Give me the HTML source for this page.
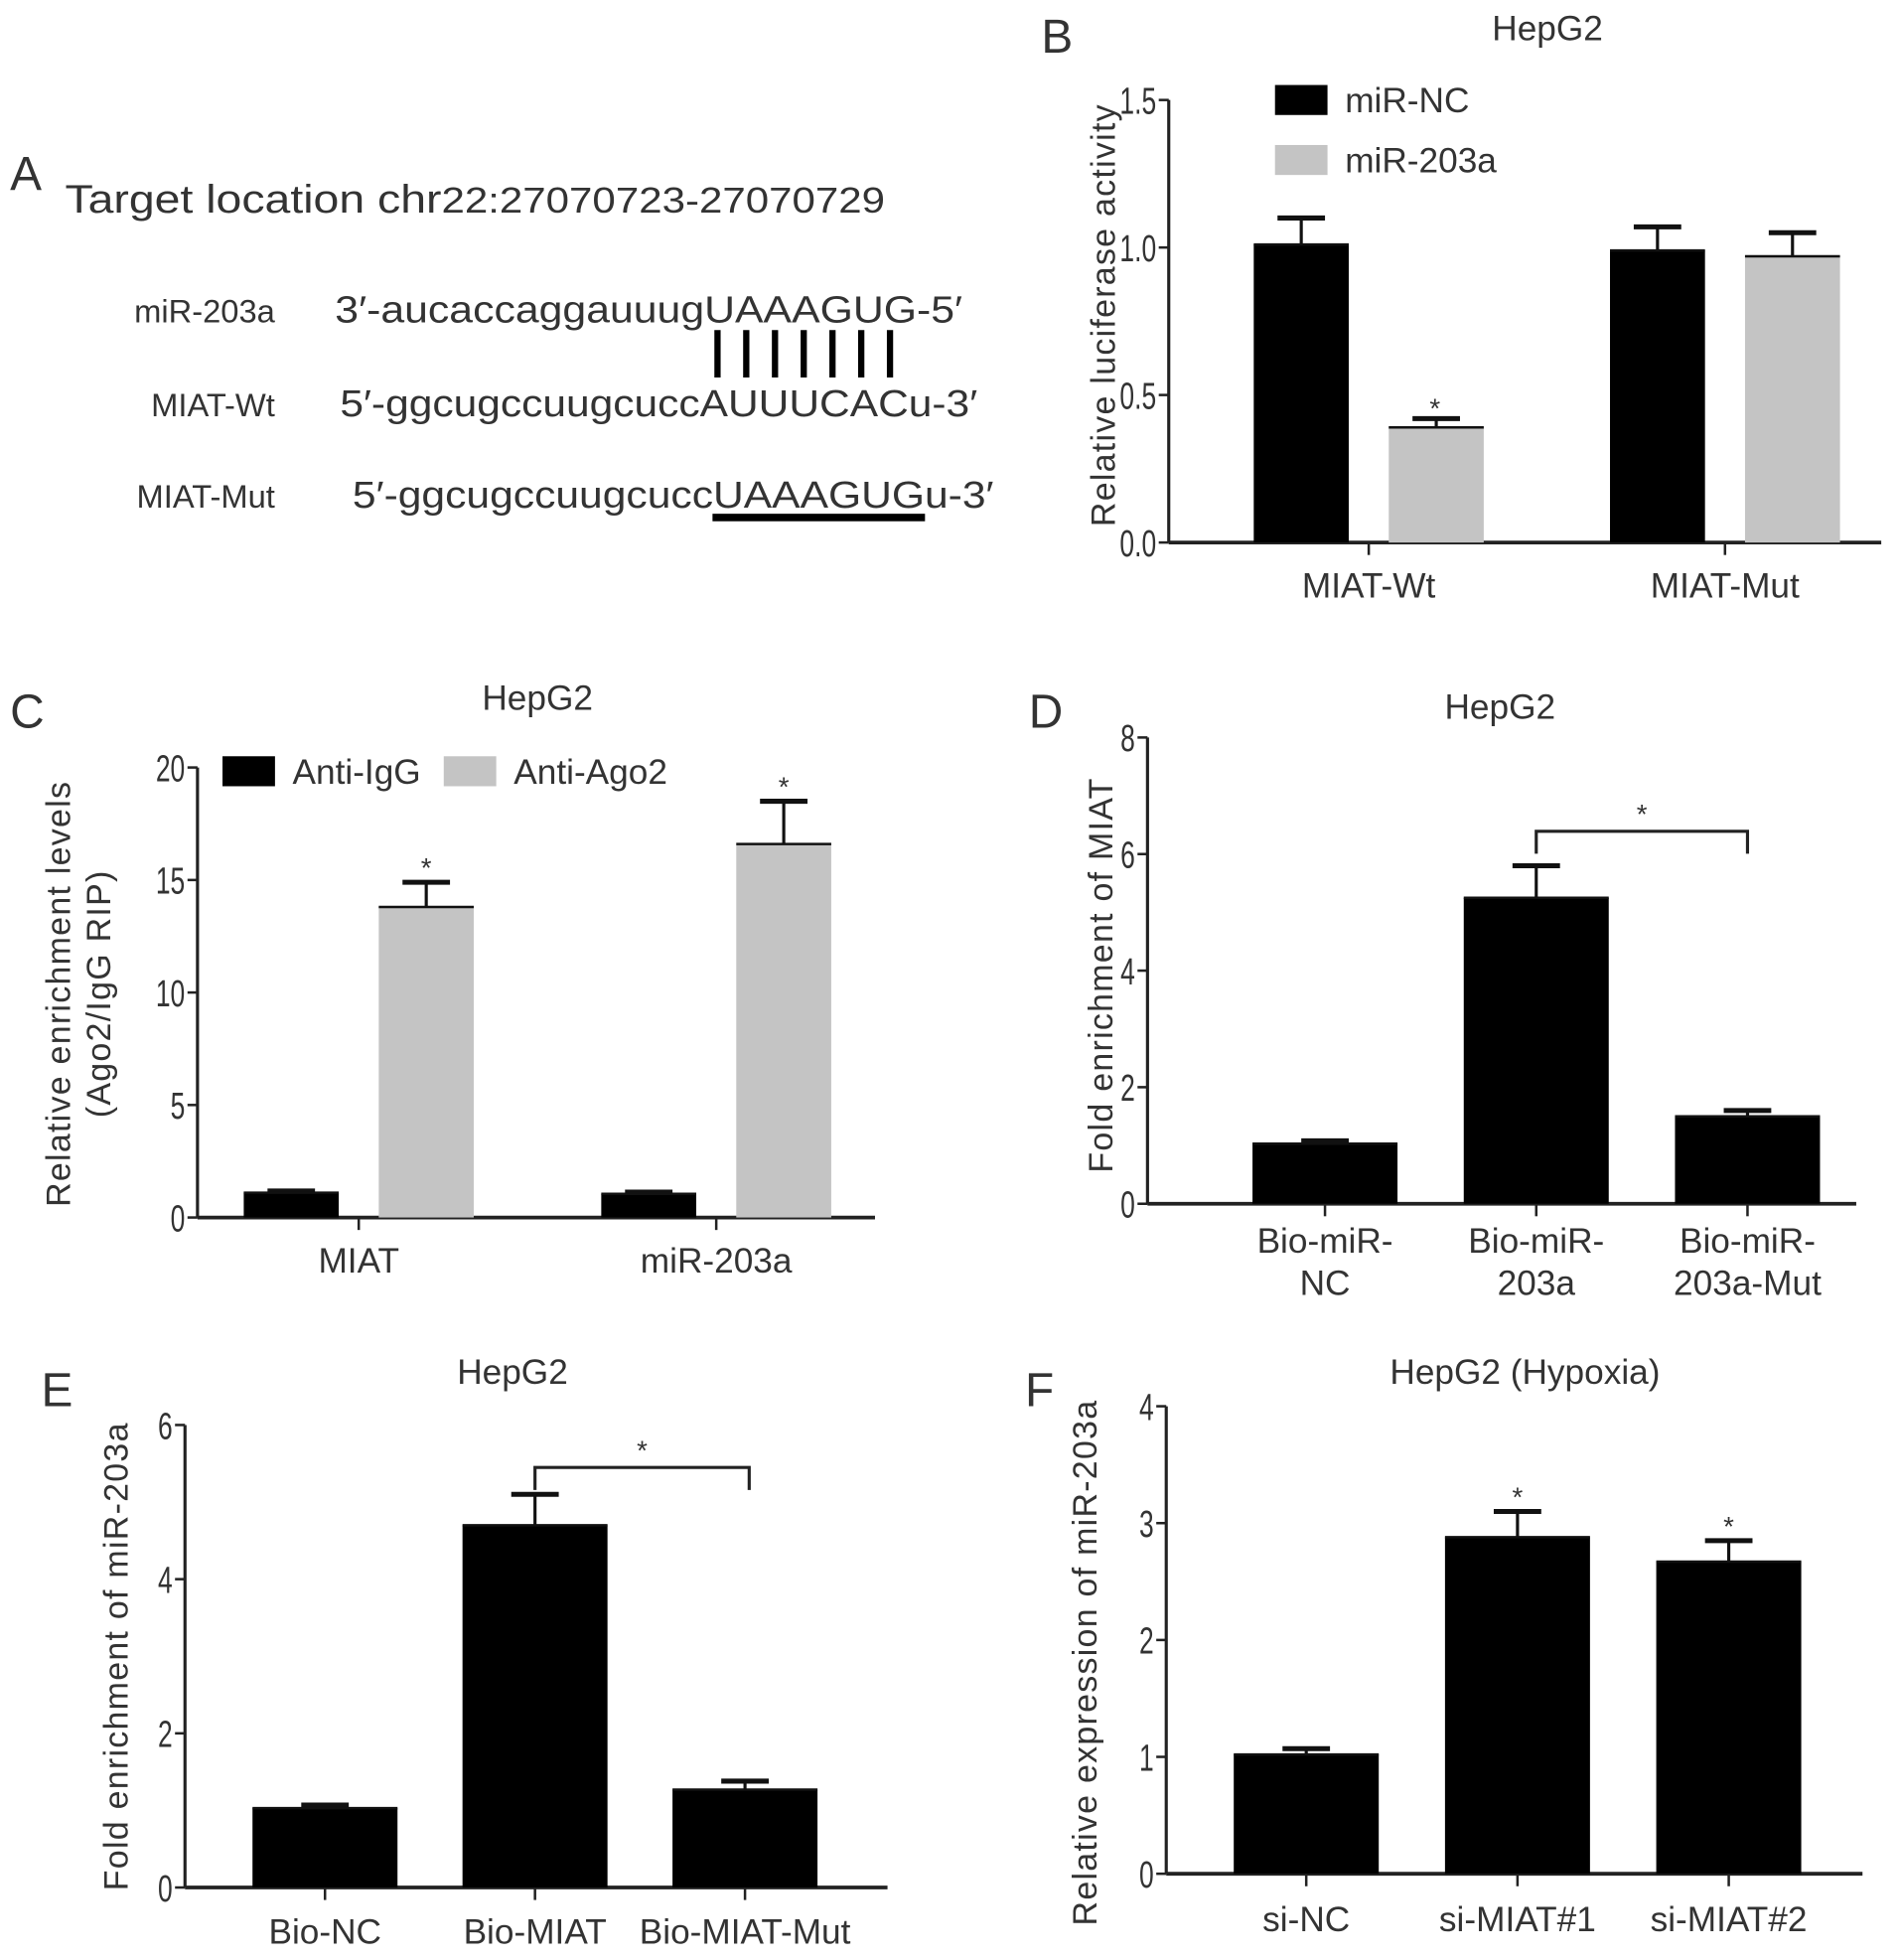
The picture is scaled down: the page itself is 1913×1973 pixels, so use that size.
<!DOCTYPE html>
<html><head><meta charset="utf-8"><style>
html,body{margin:0;padding:0;background:#fff}
svg{display:block}
text{font-family:"Liberation Sans","DejaVu Sans",sans-serif;fill:#333}
</style></head><body>
<svg id="fig" width="1913" height="1973" viewBox="0 0 1520 1568" preserveAspectRatio="none" xmlns="http://www.w3.org/2000/svg">
<g>
<text x="8" y="152" font-size="38">A</text>
<text x="52" y="170" font-size="32" textLength="656" lengthAdjust="spacingAndGlyphs">Target location chr<tspan font-size="29">22:27070723-27070729</tspan></text>
<text x="220" y="258" font-size="26" text-anchor="end">miR-203a</text>
<text x="268" y="258" font-size="30" textLength="502" lengthAdjust="spacingAndGlyphs">3′-aucaccaggauuugUAAAGUG-5′</text>
<g stroke="#000" stroke-width="5">
<line x1="574" y1="264" x2="574" y2="302"/><line x1="597" y1="264" x2="597" y2="302"/><line x1="620" y1="264" x2="620" y2="302"/><line x1="643" y1="264" x2="643" y2="302"/><line x1="666" y1="264" x2="666" y2="302"/><line x1="689" y1="264" x2="689" y2="302"/><line x1="712" y1="264" x2="712" y2="302"/>
</g>
<text x="220" y="333" font-size="26" text-anchor="end">MIAT-Wt</text>
<text x="272" y="333" font-size="30" textLength="510" lengthAdjust="spacingAndGlyphs">5′-ggcugccuugcuccAUUUCACu-3′</text>
<text x="220" y="406" font-size="26" text-anchor="end">MIAT-Mut</text>
<text x="282" y="406" font-size="30" textLength="513" lengthAdjust="spacingAndGlyphs">5′-ggcugccuugcuccUAAAGUGu-3′</text>
<rect x="570" y="411" width="170" height="6" fill="#000"/>
</g>
<text x="833" y="42" font-size="38">B</text>
<text x="8" y="582" font-size="38">C</text>
<text x="823" y="582" font-size="38">D</text>
<text x="33" y="1125" font-size="38">E</text>
<text x="820" y="1125" font-size="38">F</text>
<g id="charts"></g>
</svg>
<script>
// Panel B
const bCats = ["MIAT-Wt", "MIAT-Mut"];
const bSeries1 = [1.01, 0.99];
const bErr1 = [0.09, 0.08];
const bSeries2 = [0.39, 0.97];
const bErr2 = [0.03, 0.08];
const bTicks = ["0.0", "0.5", "1.0", "1.5"];
// Panel C
const cCats = ["MIAT", "miR-203a"];
const cSeries1 = [1.1, 1.05];
const cErr1 = [0.08, 0.08];
const cSeries2 = [13.8, 16.6];
const cErr2 = [1.1, 1.9];
const cTicks = ["0", "5", "10", "15", "20"];
// Panel D
const dCats = [["Bio-miR-", "NC"], ["Bio-miR-", "203a"], ["Bio-miR-", "203a-Mut"]];
const dValues = [1.03, 5.25, 1.5];
const dErr = [0.05, 0.55, 0.1];
const dTicks = ["0", "2", "4", "6", "8"];
// Panel E
const eCats = ["Bio-NC", "Bio-MIAT", "Bio-MIAT-Mut"];
const eValues = [1.03, 4.7, 1.27];
const eErr = [0.04, 0.4, 0.11];
const eTicks = ["0", "2", "4", "6"];
// Panel F
const fCats = ["si-NC", "si-MIAT#1", "si-MIAT#2"];
const fValues = [1.02, 2.88, 2.67];
const fErr = [0.05, 0.22, 0.18];
const fTicks = ["0", "1", "2", "3", "4"];

const NS = "http://www.w3.org/2000/svg";
const root = document.getElementById("charts");
function mk(tag, attrs, parent, txt) {
  const e = document.createElementNS(NS, tag);
  for (const k in attrs) e.setAttribute(k, attrs[k]);
  if (txt !== undefined) e.textContent = txt;
  (parent || root).appendChild(e);
  return e;
}
function axes(g, cfg) {
  const yScale = v => cfg.y0 - (v / cfg.max) * (cfg.y0 - cfg.y1);
  const yAxis = mk("line", {x1: cfg.ax, y1: cfg.y1, x2: cfg.ax, y2: cfg.y0, stroke: "#222", "stroke-width": 2.5}, g);
  
  
  const xAxis = mk("line", {x1: cfg.ax, y1: cfg.y0, x2: cfg.xEnd, y2: cfg.y0, stroke: "#222", "stroke-width": 3}, g);
  
  
  cfg.ticks.forEach(t => {
    const y = yScale(parseFloat(t));
    mk("line", {x1: cfg.ax - 8, y1: y, x2: cfg.ax, y2: y, stroke: "#222", "stroke-width": 2}, g);
    const tl = mk("text", {x: 0, y: 0, "font-size": 30, "text-anchor": "end", transform: `translate(${cfg.ax - 10},${y + 11}) scale(0.7,1)`}, g, t);
    
    
  });
  const yl = mk("text", {x: 0, y: 0, "font-size": 27, "text-anchor": "middle", "letter-spacing": "1", transform: `translate(${cfg.ylx},${cfg.yly}) rotate(-90)`}, g, cfg.ylabel);
  
  
  if (cfg.ylabel2) {
    const yl2 = mk("text", {x: 0, y: 0, "font-size": 27, "text-anchor": "middle", "letter-spacing": "1", transform: `translate(${cfg.ylx + 32},${cfg.yly}) rotate(-90)`}, g, cfg.ylabel2);
    
    
  }
  const tt = mk("text", {x: cfg.tx, y: cfg.ty, "font-size": 28, "text-anchor": "middle"}, g, cfg.title);
  
  
  return yScale;
}
function bar(g, x, w, v, err, ys, fill, name, star) {
  const y = ys(v);
  const r = mk("rect", {x: x, y: y, width: w, height: ys(0) - y, fill: fill}, g);
  
  
  const ye = ys(v + err), cx = x + w / 2;
  const e1 = mk("line", {x1: cx, y1: y, x2: cx, y2: ye, stroke: "#111", "stroke-width": 2.5}, g);
  
  
  mk("line", {x1: cx - 19, y1: ye, x2: cx + 19, y2: ye, stroke: "#111", "stroke-width": 4}, g);
  mk("line", {x1: x, y1: y, x2: x + w, y2: y, stroke: "#111", "stroke-width": 2}, g);
  if (star) {
    const s = mk("text", {x: cx, y: ye - 4, "font-size": 22, "text-anchor": "middle"}, g, "*");
    
    
  }
}
function xLabel(g, x, y, lines) {
  (Array.isArray(lines) ? lines : [lines]).forEach((l, i) => {
    const t = mk("text", {x: x, y: y + i * 34, "font-size": 28, "text-anchor": "middle"}, g, l);
    
    
  });
}
function grouped(name, cfg, cats, s1, e1, s2, e2, c1, c2, stars2, leg) {
  const g = mk("g", {});
  
  
  const ys = axes(g, cfg);
  cats.forEach((c, i) => {
    const cx = cfg.g0 + i * cfg.gstep;
    mk("line", {x1: cx, y1: cfg.y0, x2: cx, y2: cfg.y0 + 10, stroke: "#222", "stroke-width": 2}, g);
    bar(g, cx - cfg.bw - cfg.gap / 2, cfg.bw, s1[i], e1[i], ys, c1, "bar-" + c1.replace('#', '') + "-" + i, false);
    bar(g, cx + cfg.gap / 2, cfg.bw, s2[i], e2[i], ys, c2, "bar-gray-" + i, stars2);
    xLabel(g, cx, cfg.xly, c);
  });
  leg.forEach(L => {
    const r = mk("rect", {x: L.x, y: L.y, width: 42, height: 24, fill: L.c}, g);
    
    
    const t = mk("text", {x: L.x + 56, y: L.y + 22, "font-size": 28}, g, L.t);
    
    
  });
}
function single(name, cfg, cats, vals, errs, stars, bracket) {
  const g = mk("g", {});
  
  
  const ys = axes(g, cfg);
  cats.forEach((c, i) => {
    const cx = cfg.g0 + i * cfg.gstep;
    mk("line", {x1: cx, y1: cfg.y0, x2: cx, y2: cfg.y0 + 10, stroke: "#222", "stroke-width": 2}, g);
    bar(g, cx - cfg.bw / 2, cfg.bw, vals[i], errs[i], ys, "#000", "bar-" + i, stars[i]);
    xLabel(g, cx, cfg.xly, c);
  });
  if (bracket) {
    const xa = cfg.g0 + bracket.a * cfg.gstep, xb = cfg.g0 + bracket.b * cfg.gstep;
    const p = mk("path", {d: `M${xa},${bracket.y + 18} V${bracket.y} H${xb} V${bracket.y + 18}`, fill: "none", stroke: "#222", "stroke-width": 2.5}, g);
    
    
    const s = mk("text", {x: (xa + xb) / 2, y: bracket.y - 6, "font-size": 22, "text-anchor": "middle"}, g, "*");
    
    
  }
}
grouped("chart-b", {ax: 935, y0: 434, y1: 80, max: 1.5, xEnd: 1505, ticks: bTicks, ylabel: "Relative luciferase activity", ylx: 892, yly: 252, title: "HepG2", tx: 1238, ty: 32, g0: 1095, gstep: 285, bw: 76, gap: 32, xly: 478},
  bCats, bSeries1, bErr1, bSeries2, bErr2, "#000", "#c4c4c4", false,
  [{x: 1020, y: 68, c: "#000", t: "miR-NC"}, {x: 1020, y: 116, c: "#c4c4c4", t: "miR-203a"}]);
(function(){const s=mk("text",{x:1148,y:334,"font-size":22,"text-anchor":"middle"},root,"*");})();
grouped("chart-c", {ax: 158, y0: 974, y1: 614, max: 20, xEnd: 700, ticks: cTicks, ylabel: "Relative enrichment levels", ylabel2: "(Ago2/IgG RIP)", ylx: 56, yly: 795, title: "HepG2", tx: 430, ty: 568, g0: 287, gstep: 286, bw: 76, gap: 32, xly: 1018},
  cCats, cSeries1, cErr1, cSeries2, cErr2, "#000", "#c4c4c4", true,
  [{x: 178, y: 605, c: "#000", t: "Anti-IgG"}, {x: 355, y: 605, c: "#c4c4c4", t: "Anti-Ago2"}]);
single("chart-d", {ax: 918, y0: 963, y1: 590, max: 8, xEnd: 1485, ticks: dTicks, ylabel: "Fold enrichment of MIAT", ylx: 890, yly: 780, title: "HepG2", tx: 1200, ty: 575, g0: 1060, gstep: 169, bw: 116, xly: 1002},
  dCats, dValues, dErr, [false, false, false], {a: 1, b: 2, y: 665});
single("chart-e", {ax: 148, y0: 1510, y1: 1140, max: 6, xEnd: 710, ticks: eTicks, ylabel: "Fold enrichment of miR-203a", ylx: 102, yly: 1325, title: "HepG2", tx: 410, ty: 1107, g0: 260, gstep: 168, bw: 116, xly: 1555},
  eCats, eValues, eErr, [false, false, false], {a: 1, b: 2.02, y: 1174});
single("chart-f", {ax: 933, y0: 1499, y1: 1125, max: 4, xEnd: 1490, ticks: fTicks, ylabel: "Relative expression of miR-203a", ylx: 877, yly: 1330, title: "HepG2 (Hypoxia)", tx: 1220, ty: 1107, g0: 1045, gstep: 169, bw: 116, xly: 1545},
  fCats, fValues, fErr, [false, true, true], null);
</script>
</body></html>
